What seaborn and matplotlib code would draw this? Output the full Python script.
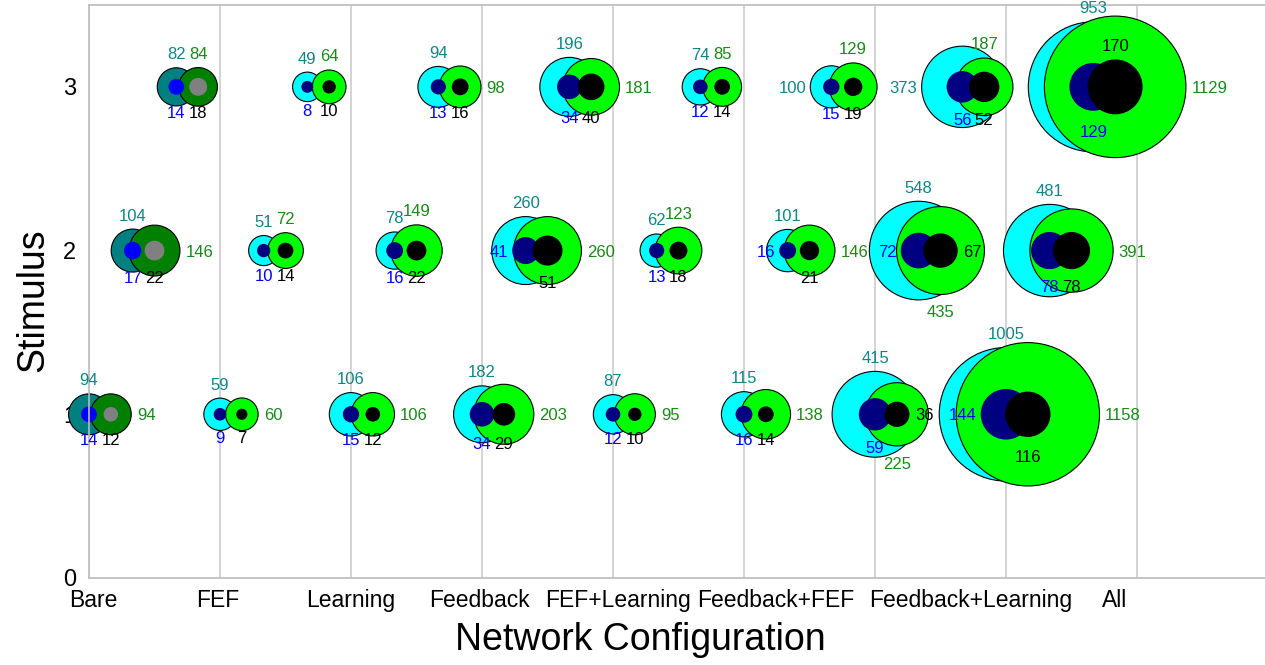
import numpy as np
import pandas as pd
import matplotlib
matplotlib.use("Agg")
import matplotlib.pyplot as plt
import seaborn as sns

# ---------------- data ----------------
configs = ["Bare", "FEF", "Learning", "Feedback", "FEF+Learning",
           "Feedback+FEF", "Feedback+Learning", "All"]
stimuli = [1, 2, 3]

# outer circle of first pair (cyan / teal)
outer_a = {1: [94, 59, 106, 182, 87, 115, 415, 1005],
           2: [104, 51, 78, 260, 62, 101, 548, 481],
           3: [82, 49, 94, 196, 74, 100, 373, 953]}
# inner circle of first pair (navy / blue)
inner_a = {1: [14, 9, 15, 34, 12, 16, 59, 144],
           2: [17, 10, 16, 41, 13, 16, 72, 78],
           3: [14, 8, 13, 34, 12, 15, 56, 129]}
# outer circle of second pair (green)
outer_b = {1: [94, 60, 106, 203, 95, 138, 225, 1158],
           2: [146, 72, 149, 260, 123, 146, 435, 391],
           3: [84, 64, 98, 181, 85, 129, 187, 1129]}
# inner circle of second pair (black / gray)
inner_b = {1: [12, 7, 12, 29, 10, 14, 36, 116],
           2: [22, 14, 22, 51, 18, 21, 67, 78],
           3: [18, 10, 16, 40, 14, 19, 52, 170]}

# ---------------- style / layout ----------------
# label side for (outer_a, inner_a, outer_b, inner_b): N/S/E/W
label_dir = {1: ["NSES", "NSES", "NSES", "NSES", "NSES", "NSES", "NSSE", "NWES"],
             2: ["NSES", "NSNS", "NSNS", "NWES", "NSNS", "NWES", "NWSE", "NSES"],
             3: ["NSNS", "NSNS", "NSES", "NSES", "NSNS", "WSNS", "WSNS", "NSEN"]}
cat_label_x = [0.03, 0.98, 2.0, 2.98, 4.04, 5.24, 6.73, 7.83]
fill_regular = {"outer_a": "#00ffff", "inner_a": "#000080",
                "outer_b": "#00ff00", "inner_b": "#000000"}
fill_bare = {"outer_a": "#008080", "inner_a": "#0000ff",
             "outer_b": "#008000", "inner_b": "#808080"}
text_col = {"outer_a": "#0f8585", "inner_a": "#0000ff",
            "outer_b": "#178a17", "inner_b": "#000000"}
K = 9.2  # marker area (pt^2) per unit value

layers = {"outer_a": outer_a, "inner_a": inner_a,
          "outer_b": outer_b, "inner_b": inner_b}

rows = []
for s in stimuli:
    for i, c in enumerate(configs):
        xa = i + (s - 1) / 3.0
        for lay, vals in layers.items():
            x = xa if lay.endswith("_a") else xa + 1 / 6.0
            col = (fill_bare if c == "Bare" else fill_regular)[lay]
            rows.append(dict(config=c, ci=i, stimulus=s, layer=lay,
                             xpos=x, value=vals[s][i], color=col))
df = pd.DataFrame(rows)
vmax = df["value"].max()

sns.set_style("white")
plt.rcParams["font.family"] = ["Liberation Sans", "DejaVu Sans"]
plt.rcParams["text.color"] = "black"
plt.rcParams["axes.labelcolor"] = "black"
plt.rcParams["xtick.color"] = "black"
plt.rcParams["ytick.color"] = "black"

fig = plt.figure(figsize=(12.65, 6.65), dpi=100)
ax = fig.add_axes([89 / 1265, 87 / 665, 1176 / 1265, 573 / 665])
ax.set_axisbelow(True)

for lay in ["outer_a", "outer_b", "inner_a", "inner_b"]:
    sub = df[df["layer"] == lay]
    outer = lay.startswith("outer")
    pal = {col: col for col in sub["color"].unique()}
    sns.scatterplot(data=sub, x="xpos", y="stimulus", size="value",
                    sizes=(0, K * vmax), size_norm=(0, vmax),
                    hue="color", palette=pal, legend=False, ax=ax,
                    edgecolor="black" if outer else "none",
                    linewidth=0.8 if outer else 0, alpha=1,
                    clip_on=False)


def rpt(v):
    return np.sqrt(K * v) / 2.0


for s in stimuli:
    for i, c in enumerate(configs):
        xa = i + (s - 1) / 3.0
        xb = xa + 1 / 6.0
        dirs = label_dir[s][i]
        r = {lay: rpt(layers[lay][s][i]) for lay in layers}
        rin = max(r["inner_a"], r["inner_b"])
        for k, lay in enumerate(["outer_a", "inner_a", "outer_b", "inner_b"]):
            v = layers[lay][s][i]
            x = xa if lay.endswith("_a") else xb
            d = dirs[k]
            rr = r[lay]
            ha, va = "center", "center_baseline"
            if d == "N":
                off = (0, rr + 10.5)
            elif d == "S":
                off = (0, -((rin if lay.startswith("inner") else rr) + 12))
            elif d == "E":
                off = (rr + 4, 0)
                ha = "left"
            else:
                off = (-(rr + 3), 0)
                ha = "right"
            ax.annotate(str(v), (x, s), xytext=off, textcoords="offset points",
                        ha=ha, va=va, fontsize=12, color=text_col[lay],
                        annotation_clip=False, zorder=5)

ax.set_xlim(0, 1176 / 131.0)
ax.set_ylim(0, 3.5)
ax.set_xticks(range(0, 9))
ax.set_xticklabels([])
ax.set_xticks([i + f for i in range(0, 9) for f in (1 / 3, 2 / 3)], minor=True)
ax.set_yticks([0, 1, 2, 3])
ax.set_yticklabels(["0", "1", "2", "3"], fontsize=17)
ax.tick_params(axis="x", which="major", direction="out", length=7,
               color="#bbbbbb", width=1.2)
ax.tick_params(axis="x", which="minor", direction="in", length=5,
               color="#bbbbbb", width=1.2)
ax.tick_params(axis="y", which="major", direction="out", length=6,
               color="#bbbbbb", labelcolor="black", width=1.2, pad=3)
ax.grid(axis="x", which="major", color="#cccccc", linewidth=1.2)
ax.grid(axis="y", visible=False)
for side in ["left", "bottom", "top"]:
    ax.spines[side].set_color("#bbbbbb")
    ax.spines[side].set_linewidth(1.2)
ax.spines["right"].set_visible(False)

for xl, c in zip(cat_label_x, configs):
    ax.text(xl, -0.02, c, transform=ax.get_xaxis_transform(),
            ha="center", va="top", fontsize=16.5, color="black")

ax.set_xlabel("Network Configuration", fontsize=27, color="black")
ax.xaxis.set_label_coords(0.4685, -0.077)
ax.set_ylabel("Stimulus", fontsize=27, color="black")
ax.yaxis.set_label_coords(-0.032, 0.485)

fig.savefig("out.png", dpi=100)
